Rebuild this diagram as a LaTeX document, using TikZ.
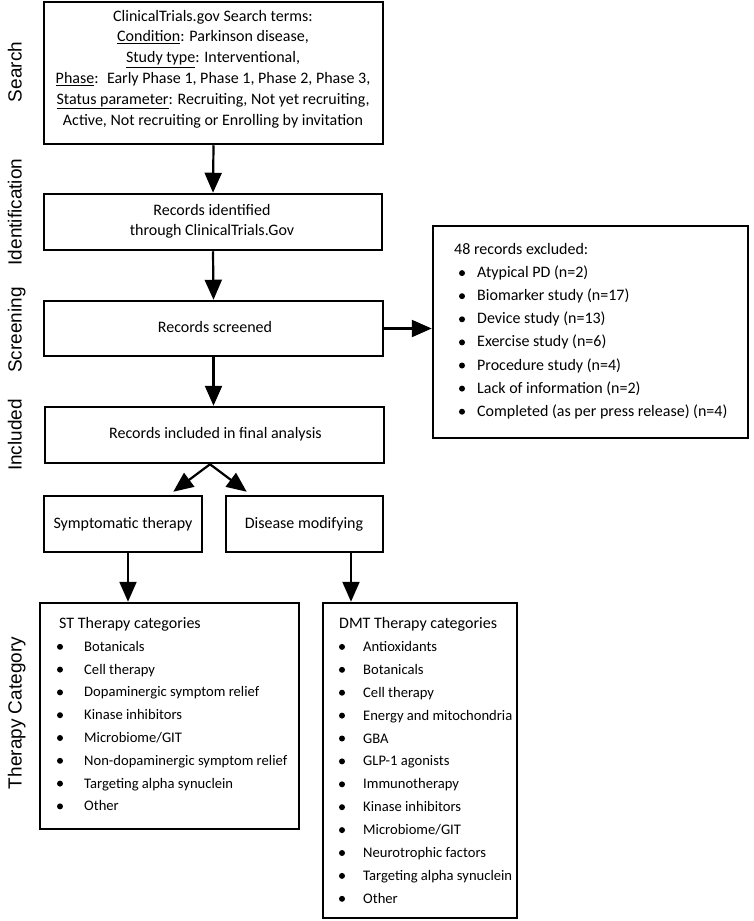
\documentclass[tikz,border=0pt]{standalone}
\usepackage{fontspec}
\setmainfont{Carlito}
\newfontfamily\labelfont{Liberation Sans}
\usetikzlibrary{arrows.meta,calc}
\begin{document}
\begin{tikzpicture}[x=1pt,y=-1pt,
  box/.style={draw, line width=2.5pt, inner sep=0pt},
  arr/.style={line width=2.2pt, -{Triangle[length=20pt,width=17pt]}},
  side/.style={font=\labelfont\fontsize{19}{22}\selectfont, rotate=90, anchor=base, inner sep=0pt},
  txt/.style={font=\fontsize{16}{20}\selectfont, inner sep=0pt},
  item/.style={txt, anchor=base west},
  smallitem/.style={item, font=\fontsize{14.6}{18}\selectfont},
  dot/.style={fill=black, circle, inner sep=0pt, minimum size=6pt}]
\useasboundingbox (0,0) rectangle (753,921);

% boxes
\node[box, minimum width=339pt, minimum height=142pt] (search) at (213.5,73) {};
\node[box, minimum width=338pt, minimum height=56pt] (ident) at (213,222) {};
\node[box, minimum width=339pt, minimum height=55pt] (screen) at (213.5,328.5) {};
\node[box, minimum width=339pt, minimum height=56pt] (incl) at (214.5,435) {};
\node[box, minimum width=158pt, minimum height=56pt] (sym) at (123,524) {};
\node[box, minimum width=157pt, minimum height=56pt] (dis) at (304.5,524) {};
\node[box, minimum width=259pt, minimum height=226pt] (st) at (169.5,716) {};
\node[box, minimum width=194pt, minimum height=315pt] (dmt) at (420,760.5) {};
\node[box, minimum width=315pt, minimum height=212pt] (excl) at (590.5,332) {};

% side labels
\node[side] (lsearch) at (21.5,72) {Search};
\node[side] (lident) at (21.5,212) {Identification};
\node[side] (lscreen) at (21.5,330) {Screening};
\node[side] (lincl) at (21.5,435) {Included};
\node[side] (lther) at (21.5,713) {Therapy Category};

% box texts
\node[txt, align=center, font=\fontsize{16}{20.8}\selectfont] (stxt) at (213,69)
  {ClinicalTrials.gov Search terms:\\
   \underline{Condition}: Parkinson disease,\\
   \underline{Study type}: Interventional,\\
   \underline{Phase}:~ Early Phase 1, Phase 1, Phase 2, Phase 3,\\
   \underline{Status parameter}: Recruiting, Not yet recruiting,\\
   Active, Not recruiting or Enrolling by invitation};
\node[txt, align=center, font=\fontsize{16}{20.3}\selectfont] (itxt) at (212,221)
  {Records identified\\ through ClinicalTrials.Gov};
\node[txt] (sctxt) at (215,327) {Records screened};
\node[txt] (intxt) at (215.5,434) {Records included in final analysis};
\node[txt] (symtxt) at (123,524) {Symptomatic therapy};
\node[txt] (distxt) at (304,524) {Disease modifying};

% excluded list
\node[item] (exh) at (454,254.5) {48 records excluded:};
\foreach \t [count=\i] in {Atypical PD (n=2), Biomarker study (n=17), Device study (n=13),
  Exercise study (n=6), Procedure study (n=4), Lack of information (n=2),
  Completed (as per press release) (n=4)}{
  \node[dot] (exd\i) at (462,250+23.1*\i) {};
  \node[item] (ext\i) at (477,254.5+23.1*\i) {\t};
}

% ST list
\node[item] (sth) at (59,628.5) {ST Therapy categories};
\foreach \t [count=\i] in {Botanicals, Cell therapy, Dopaminergic symptom relief,
  Kinase inhibitors, Microbiome/GIT, Non-dopaminergic symptom relief,
  Targeting alpha synuclein, Other}{
  \node[dot] (std\i) at (60,624+22.8*\i) {};
  \node[smallitem] (stt\i) at (84,628.5+22.8*\i) {\t};
}

% DMT list
\node[item] (dmh) at (339,628.5) {DMT Therapy categories};
\foreach \t [count=\i] in {Antioxidants, Botanicals, Cell therapy, Energy and mitochondria,
  GBA, GLP-1 agonists, Immunotherapy, Kinase inhibitors, Microbiome/GIT,
  Neurotrophic factors, Targeting alpha synuclein, Other}{
  \node[dot] (dmd\i) at (342,624+22.9*\i) {};
  \node[smallitem] (dmt\i) at (363,628.5+22.9*\i) {\t};
}

% arrows
\draw[arr] (search.south) -- (ident.north);
\draw[arr] (ident.south) -- (screen.north);
\draw[arr] (screen.south) -- (screen.south |- incl.north);
\draw[arr] (screen.east) -- (screen.east -| excl.west);
\coordinate (split) at ([xshift=-4.5pt]incl.south);
\draw[arr] (split) -- ([xshift=-30pt,yshift=3pt]sym.north east);
\draw[arr] (split) -- ([xshift=22pt,yshift=3pt]dis.north west);
\draw[arr] ([xshift=5pt]sym.south) -- ([xshift=5pt]sym.south |- st.north);
\draw[arr] ([xshift=46.5pt]dis.south) -- ([xshift=46.5pt]dis.south |- dmt.north);
\end{tikzpicture}
\end{document}
